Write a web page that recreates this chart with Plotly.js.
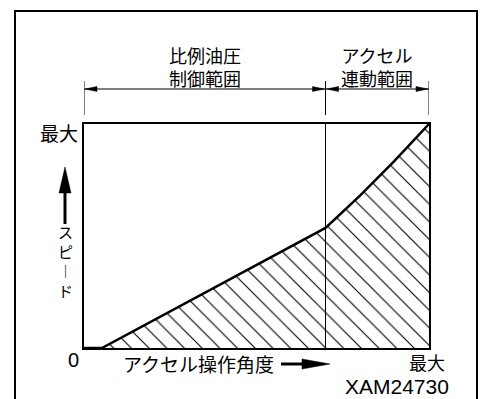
<!DOCTYPE html>
<html>
<head>
<meta charset="utf-8">
<script src="https://cdn.plot.ly/plotly-3.0.1.min.js"></script>
<style>
  html, body { margin: 0; padding: 0; background: #fff; }
  #chart { width: 480px; height: 399px; }
</style>
</head>
<body>
<div id="chart"></div>
<script>
// accelerator opening (%) vs speed (%)
const accel = [0, 5.2, 70, 80, 90, 100];
const speed = [0, 0, 53.6, 68, 83.5, 100];

// control zones along the accelerator axis
const zoneEdges = [0, 70, 100];
const zoneLabels = [['比例油圧', '制御範囲'], ['アクセル', '連動範囲']];

const maxLabel = '最大';
const originLabel = '0';
const xTitle = 'アクセル操作角度';
const yTitle = ['ス', 'ピ', '︱', 'ド'];   // written top to bottom, long mark turned upright
const figureId = 'XAM24730';

// plot box in pixels
const L = 84, T = 124, W = 345, H = 224;
const px = x => (x - L) / W;
const py = y => (T + H - y) / H;
const edgePx = e => L + e / 100 * W;

const jp = 'Noto Sans CJK JP, sans-serif';
const latin = 'Liberation Sans, Arial, sans-serif';

function line(x0, y0, x1, y1, w) {
    return { type: 'line', xref: 'paper', yref: 'paper',
        x0: px(x0), y0: py(y0), x1: px(x1), y1: py(y1),
        line: { color: '#000', width: w } };
}

function tri(pts) {
    const d = pts.map((p, i) => (i ? 'L' : 'M') + px(p[0]) + ',' + py(p[1])).join(' ') + ' Z';
    return { type: 'path', xref: 'paper', yref: 'paper', path: d,
        fillcolor: '#000', line: { color: '#000', width: 0.5 } };
}

function hArrowHead(tipX, y, dir, len, half) {
    // dir = -1 points left, +1 points right
    const bx = tipX - dir * len;
    return tri([[tipX, y], [bx, y - half], [bx, y + half]]);
}

const trace = {
    x: accel,
    y: speed,
    type: 'scatter',
    mode: 'lines',
    line: { color: '#000', width: 2.5 },
    fill: 'tozeroy',
    fillpattern: { shape: '\\', size: 12.5, solidity: 0.09, fgcolor: '#000', bgcolor: 'rgba(0,0,0,0)' },
    hoverinfo: 'skip'
};

const shapes = [];
// outer frame
shapes.push(line(15, 11, 15, 399, 2));
shapes.push(line(477, 11, 477, 399, 2));
shapes.push(line(14, 11, 478, 11, 2));

// zone divider inside the plot
shapes.push({ type: 'line', xref: 'x', yref: 'paper', x0: zoneEdges[1], x1: zoneEdges[1], y0: 0, y1: 1,
    line: { color: '#000', width: 1 } });

// dimension lines above the plot
const dimY = 89;
zoneEdges.forEach(e => {
    shapes.push({ type: 'line', xref: 'x', yref: 'paper', x0: e, x1: e, y0: py(115), y1: py(81),
        line: { color: '#000', width: 1 } });
});
shapes.push(line(edgePx(zoneEdges[0]), dimY, edgePx(zoneEdges[2]), dimY, 1));
for (let i = 0; i < zoneEdges.length - 1; i++) {
    const a = edgePx(zoneEdges[i]), b = edgePx(zoneEdges[i + 1]);
    shapes.push(hArrowHead(a + 1, dimY, -1, 12, 2.5));
    shapes.push(hArrowHead(b - 1, dimY, 1, 12, 2.5));
}

// y axis arrow (up)
shapes.push(line(65, 224, 65, 190, 3));
shapes.push(tri([[65, 167], [59, 193], [71, 193]]));
// x axis arrow (right)
shapes.push(line(281, 364, 306, 364, 3));
shapes.push(hArrowHead(330, 364, 1, 28, 5));

const annotations = [];
const note = (o) => Object.assign({ showarrow: false, xanchor: 'center', yanchor: 'middle' }, o);

zoneLabels.forEach((lines, i) => {
    const cx = (zoneEdges[i] + zoneEdges[i + 1]) / 2;
    annotations.push(note({ text: lines.join('<br>'), xref: 'x', x: cx, yref: 'paper', y: py(66.5),
        font: { family: jp, size: 18, color: '#000' } }));
});

annotations.push(note({ text: maxLabel, xref: 'paper', x: px(80), xanchor: 'right', yref: 'y', y: 100, yshift: -8,
    font: { family: jp, size: 19, color: '#000' } }));
annotations.push(note({ text: maxLabel, xref: 'x', x: 100, xshift: -2, yref: 'paper', y: py(361.5),
    font: { family: jp, size: 18, color: '#000' } }));
annotations.push(note({ text: originLabel, xref: 'x', x: 0, xshift: -11, yref: 'y', y: 0, yshift: -12,
    font: { family: latin, size: 20, color: '#000' } }));

annotations.push(note({ text: xTitle, xref: 'paper', x: px(121), xanchor: 'left', yref: 'paper', y: py(363),
    font: { family: jp, size: 19, color: '#000' } }));

annotations.push(note({ text: yTitle.join('<br>'), xref: 'paper', x: px(65), yref: 'paper', y: py(261),
    font: { family: jp, size: 15, color: '#000' } }));

annotations.push(note({ text: figureId, xref: 'paper', x: px(451), xanchor: 'right', yref: 'paper', y: py(386.5),
    font: { family: latin, size: 21, color: '#000' } }));

const layout = {
    width: 480,
    height: 399,
    margin: { l: L, r: 480 - L - W, t: T, b: 399 - T - H, pad: 0 },
    paper_bgcolor: '#fff',
    plot_bgcolor: '#fff',
    showlegend: false,
    xaxis: { range: [0, 100], showgrid: false, zeroline: false, showticklabels: false, ticks: '',
        showline: true, mirror: true, linecolor: '#000', linewidth: 2, fixedrange: true },
    yaxis: { range: [0, 100], showgrid: false, zeroline: false, showticklabels: false, ticks: '',
        showline: true, mirror: true, linecolor: '#000', linewidth: 2, fixedrange: true },
    shapes: shapes,
    annotations: annotations
};

Plotly.newPlot('chart', [trace], layout, { displayModeBar: false, staticPlot: true });
</script>
</body>
</html>
